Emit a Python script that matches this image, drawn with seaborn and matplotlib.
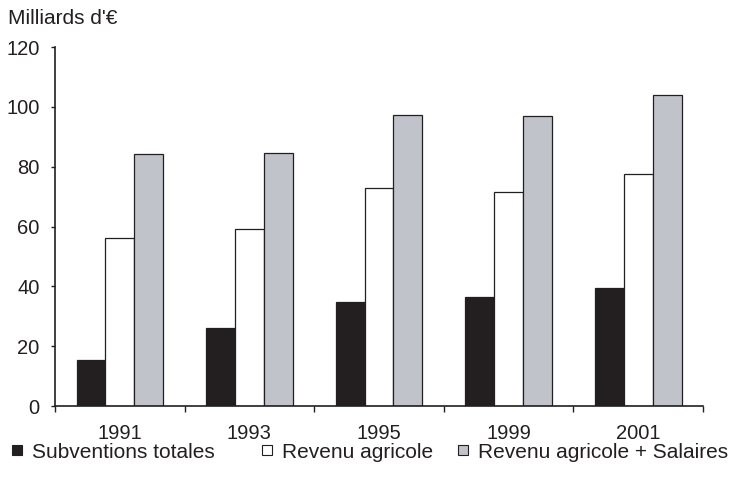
import matplotlib
matplotlib.use("Agg")
import matplotlib.pyplot as plt
from matplotlib.lines import Line2D
import seaborn as sns
import pandas as pd

years = ["1991", "1993", "1995", "1999", "2001"]
series = ["Subventions totales", "Revenu agricole", "Revenu agricole + Salaires"]
subventions = [15.4, 26.0, 34.8, 36.5, 39.4]
revenu = [56.3, 59.1, 72.9, 71.5, 77.5]
revenu_salaires = [84.2, 84.5, 97.2, 96.9, 104.0]
yticks = [0, 20, 40, 60, 80, 100, 120]

colors = ["#231f20", "#ffffff", "#c1c3ca"]
edge = "#231f20"

df = pd.DataFrame({
    "annee": years * 3,
    "serie": [series[0]] * 5 + [series[1]] * 5 + [series[2]] * 5,
    "valeur": subventions + revenu + revenu_salaires,
})

sns.set_style("white")
plt.rcParams["font.family"] = ["Liberation Sans", "DejaVu Sans"]

fig = plt.figure(figsize=(7.37, 4.90), dpi=100)
ax = fig.add_axes([0.0746, 0.1714, 0.8794, 0.7326])

sns.barplot(data=df, x="annee", y="valeur", hue="serie", order=years,
            hue_order=series, palette=colors, width=0.667, ax=ax,
            edgecolor=edge, linewidth=0.9, legend=False, saturation=1)

ax.set_xlim(-0.5, 4.5)
ax.set_ylim(0, 120)
ax.set_yticks(yticks)
ax.set_xlabel("")
ax.set_ylabel("")
for s in ["top", "right"]:
    ax.spines[s].set_visible(False)
for s in ["left", "bottom"]:
    ax.spines[s].set_color("#231f20")
    ax.spines[s].set_linewidth(1.2)

ax.tick_params(axis="y", direction="out", length=3, width=1, color="#231f20",
               pad=8, labelsize=14.5, labelcolor="#231f20", left=True)
ax.tick_params(axis="x", which="major", length=0, pad=13, labelsize=14.5,
               labelcolor="#231f20", bottom=True)
ax.set_xticks([i - 0.5 for i in range(6)], minor=True)
ax.tick_params(axis="x", which="minor", direction="out", length=4, width=1,
               color="#231f20", bottom=True)

fig.text(0.011, 0.963, "Milliards d'€", fontsize=15, color="#231f20",
         va="center", ha="left")

# legend entries placed individually along the bottom
leg_x = [0.0118, 0.351, 0.617]
for lbl, col, x in zip(series, colors, leg_x):
    h = Line2D([], [], marker="s", linestyle="none", markersize=7.2,
               markerfacecolor=col, markeredgecolor=edge, markeredgewidth=0.8)
    fig.legend([h], [lbl], loc="center left", bbox_to_anchor=(x, 0.077),
               frameon=False, fontsize=15, handlelength=0.8,
               handletextpad=0.3, borderpad=0, borderaxespad=0,
               labelcolor="#231f20")

fig.savefig("out.png", dpi=100)
